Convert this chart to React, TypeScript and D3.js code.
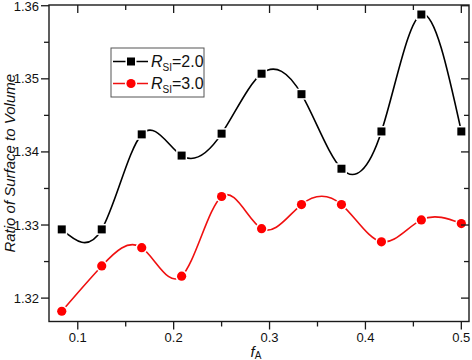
import React from 'react';
import * as d3 from 'd3';

// composition f_A and surface/volume ratios
const fA = [0.0833, 0.125, 0.1667, 0.2083, 0.25, 0.2917, 0.3333, 0.375, 0.4167, 0.4583, 0.5];
const rsi2 = [1.3294, 1.3294, 1.3424, 1.3395, 1.3425, 1.3507, 1.3479, 1.3377, 1.3428, 1.3588, 1.3428];
const rsi3 = [1.3182, 1.3244, 1.3269, 1.323, 1.3339, 1.3295, 1.3328, 1.3328, 1.3277, 1.3307, 1.3302];
const xTicks = [0.1, 0.2, 0.3, 0.4, 0.5];
const xMinor = [0.15, 0.25, 0.35, 0.45];
const yTicks = [1.32, 1.33, 1.34, 1.35, 1.36];
const yMinor = [1.325, 1.335, 1.345, 1.355];
const seriesNames = ['2.0', '3.0'];

const W = 472;
const H = 360;
const L = 49, R = 469, T = 5, B = 321.5;
const FONT = 'Arial, "Liberation Sans", Helvetica, sans-serif';

export default function App() {
  const x = d3.scaleLinear().domain([0.07, 0.508]).range([L, R]);
  const y = d3.scaleLinear().domain([1.3168, 1.3601]).range([B, T]);

  const line = d3.line<number>()
    .x((d, i) => x(fA[i]))
    .y(d => y(d))
    .curve(d3.curveNatural);

  const allY = [...yTicks, ...yMinor];
  const allX = [...xTicks, ...xMinor];

  return (
    <svg width={W} height={H} style={{ position: 'absolute', left: 0, top: 0, background: '#fff' }}>
      {/* series lines */}
      <path d={line(rsi2) || ''} fill="none" stroke="#000" strokeWidth={1.6} />
      <path d={line(rsi3) || ''} fill="none" stroke="#f01010" strokeWidth={1.6} />

      {/* markers with white halo for the gap */}
      {rsi2.map((v, i) => (
        <rect key={'b' + i} x={x(fA[i]) - 4} y={y(v) - 4} width={8} height={8}
          fill="#000" stroke="#fff" strokeWidth={3} paintOrder="stroke" />
      ))}
      {rsi3.map((v, i) => (
        <circle key={'r' + i} cx={x(fA[i])} cy={y(v)} r={4.6}
          fill="#f00" stroke="#fff" strokeWidth={3} paintOrder="stroke" />
      ))}

      {/* frame */}
      <rect x={L} y={T} width={R - L} height={B - T} fill="none" stroke="#1a1a1a" strokeWidth={1.4} />

      {/* bottom axis: outward ticks, top: inward */}
      {allX.map(t => {
        const major = xTicks.includes(t);
        const len = major ? 8 : 5;
        return (
          <g key={'xt' + t}>
            <line x1={x(t)} x2={x(t)} y1={B} y2={B + len} stroke="#1a1a1a" strokeWidth={1.3} />
            <line x1={x(t)} x2={x(t)} y1={T} y2={T + len} stroke="#1a1a1a" strokeWidth={1.3} />
          </g>
        );
      })}
      {xTicks.map(t => (
        <text key={'xl' + t} x={x(t)} y={342} textAnchor="middle" fontFamily={FONT} fontSize={13} fill="#111">
          {d3.format('.1f')(t)}
        </text>
      ))}

      {/* left axis: outward ticks, right: inward */}
      {allY.map(t => {
        const major = yTicks.includes(t);
        const len = major ? 8 : 5;
        return (
          <g key={'yt' + t}>
            <line x1={L - len} x2={L} y1={y(t)} y2={y(t)} stroke="#1a1a1a" strokeWidth={1.3} />
            <line x1={R - len} x2={R} y1={y(t)} y2={y(t)} stroke="#1a1a1a" strokeWidth={1.3} />
          </g>
        );
      })}
      {yTicks.map(t => (
        <text key={'yl' + t} x={39} y={Math.max(y(t) + 4.5, 11)} textAnchor="end" fontFamily={FONT} fontSize={13} fill="#111">
          {d3.format('.2f')(t)}
        </text>
      ))}

      {/* axis titles */}
      <text x={256} y={357} textAnchor="middle" fontFamily={FONT} fontSize={15} fill="#111">
        <tspan fontStyle="italic">f</tspan>
        <tspan fontSize={10} dy={2}>A</tspan>
      </text>
      <text transform={`translate(15,${(T + B) / 2}) rotate(-90)`} textAnchor="middle"
        fontFamily={FONT} fontSize={15} fontStyle="italic" fill="#111">
        Ratio of Surface to Volume
      </text>

      {/* legend */}
      <rect x={111} y={48} width={93} height={49} fill="#fff" stroke="#555" strokeWidth={1} />
      {seriesNames.map((n, i) => {
        const ly = 61.5 + i * 22;
        const col = i === 0 ? '#000' : '#f01010';
        return (
          <g key={'lg' + i}>
            <line x1={113} x2={148} y1={ly} y2={ly} stroke={col} strokeWidth={1.6} />
            {i === 0
              ? <rect x={127} y={ly - 4} width={8} height={8} fill="#000" stroke="#fff" strokeWidth={3} paintOrder="stroke" />
              : <circle cx={131} cy={ly} r={4.6} fill="#f00" stroke="#fff" strokeWidth={3} paintOrder="stroke" />}
            <text x={151} y={ly + 5.5} fontFamily={FONT} fontSize={16} fill="#111">
              <tspan fontStyle="italic">R</tspan>
              <tspan fontSize={10} dy={4}>SI</tspan>
              <tspan dy={-4}>={n}</tspan>
            </text>
          </g>
        );
      })}
    </svg>
  );
}
